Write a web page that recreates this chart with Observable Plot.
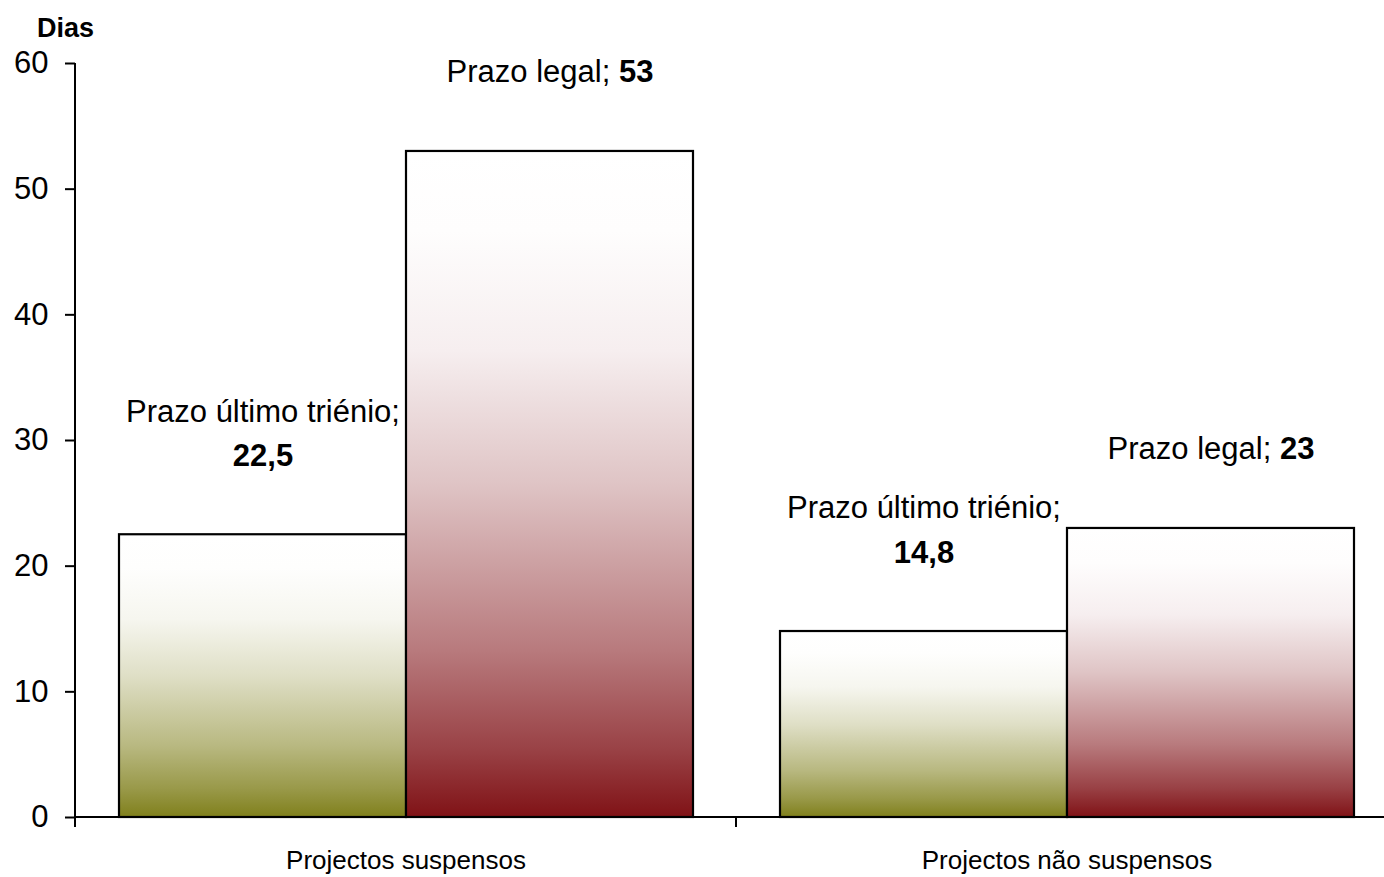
<!DOCTYPE html>
<html><head><meta charset="utf-8">
<script src="https://cdn.jsdelivr.net/npm/d3@7"></script>
<script src="https://cdn.jsdelivr.net/npm/@observablehq/plot@0.6"></script>
<style>
  html,body{margin:0;padding:0;background:#fff}
  #chart{width:1384px;height:877px;overflow:hidden}
  #chart svg text{white-space:pre}
</style>
</head><body><div id="chart"></div>
<script>
// ---- data ----
const categories = ["Projectos suspensos", "Projectos não suspensos"];
const seriesNames = ["Prazo último triénio", "Prazo legal"];
const ultimoTrienio = [22.5, 14.8];
const prazoLegal = [53, 23];
const yTicks = [0, 10, 20, 30, 40, 50, 60];
const yLabel = "Dias";

const rows = categories.flatMap((c, i) => [
  {category: c, series: seriesNames[0], value: ultimoTrienio[i]},
  {category: c, series: seriesNames[1], value: prazoLegal[i]}
]);
const fmt = v => String(v).replace(".", ",");
const label = d => d.series === seriesNames[0]
  ? `${d.series};\n${fmt(d.value)}`
  : `${d.series}; ${fmt(d.value)}`;

const W = 1384, H = 877;
const plot = Plot.plot({
  width: W, height: H,
  marginLeft: 75, marginRight: -13, marginTop: 63, marginBottom: 60,
  style: {fontFamily: "'Liberation Sans', Arial, sans-serif", color: "#000", background: "#fff", overflow: "hidden"},
  fx: {domain: categories, padding: 0, label: null},
  x: {domain: seriesNames, paddingInner: 0, paddingOuter: 0.149, axis: null},
  y: {domain: [0, 60], label: null},
  color: {domain: seriesNames, range: ["url(#gOlive)", "url(#gRed)"]},
  marks: [
    Plot.barY(rows, {fx: "category", x: "series", y: "value", fill: "series", stroke: "#000", strokeWidth: 2.2}),
    Plot.axisY({ticks: yTicks, tickSize: 10, tickPadding: 17, fontSize: 31, strokeWidth: 2, label: null}),
    Plot.axisFx({anchor: "bottom", tickSize: 0, tickPadding: 33, fontSize: 26, label: null}),
    Plot.text(rows, {fx: "category", x: "series", y: "value", text: label,
      lineAnchor: "bottom", dy: -69, fontSize: 31, lineHeight: 1.42, fill: "#000"}),
    Plot.text([{fx: categories[0], t: yLabel}], {fx: "fx", text: "t", frameAnchor: "top-left",
      textAnchor: "middle", lineAnchor: "bottom", dx: -10, dy: -27, fontSize: 27, fontWeight: "bold", fill: "#000"})
  ]
});
document.getElementById("chart").appendChild(plot);

// ---- gradients ----
const svg = d3.select(plot);
const defs = svg.insert("defs", ":first-child");
function gradient(id, base) {
  const g = defs.append("linearGradient").attr("id", id)
    .attr("x1", 0).attr("y1", 0).attr("x2", 0).attr("y2", 1);
  const mix = d3.interpolateRgb("#ffffff", base);
  [[0, 0], [0.12, 0.01], [0.3, 0.07], [0.5, 0.25], [0.75, 0.56], [0.9, 0.8], [1, 1]].forEach(([o, f]) =>
    g.append("stop").attr("offset", o).attr("stop-color", mix(f)));
}
gradient("gOlive", "rgb(128,128,28)");
gradient("gRed", "rgb(128,18,22)");

// ---- axis lines and category boundary ticks (positions from Plot's scales) ----
const fx = plot.scale("fx"), y = plot.scale("y");
const y0 = y.apply(0), yTop = y.apply(60);
const bounds = categories.map(c => fx.apply(c));
bounds.push(bounds[bounds.length - 1] + fx.bandwidth);
const axes = svg.append("g").attr("stroke", "#000").attr("stroke-width", 2);
axes.append("line").attr("x1", bounds[0]).attr("x2", W).attr("y1", y0).attr("y2", y0);
axes.append("line").attr("x1", bounds[0]).attr("x2", bounds[0]).attr("y1", yTop).attr("y2", y0 + 10);
bounds.forEach(b => axes.append("line").attr("x1", b).attr("x2", b).attr("y1", y0).attr("y2", y0 + 10));

// ---- bold values in labels ----
svg.selectAll('g[aria-label="text"] text').each(function () {
  const t = d3.select(this);
  const tspans = t.selectAll("tspan").nodes();
  if (tspans.length > 1) {
    d3.select(tspans[tspans.length - 1]).attr("font-weight", "bold");
  } else {
    const s = this.textContent;
    const k = s.lastIndexOf("; ");
    if (k >= 0) {
      t.text(null);
      t.append("tspan").text(s.slice(0, k + 2));
      t.append("tspan").attr("font-weight", "bold").text(s.slice(k + 2));
    }
  }
});
</script>
</body></html>
